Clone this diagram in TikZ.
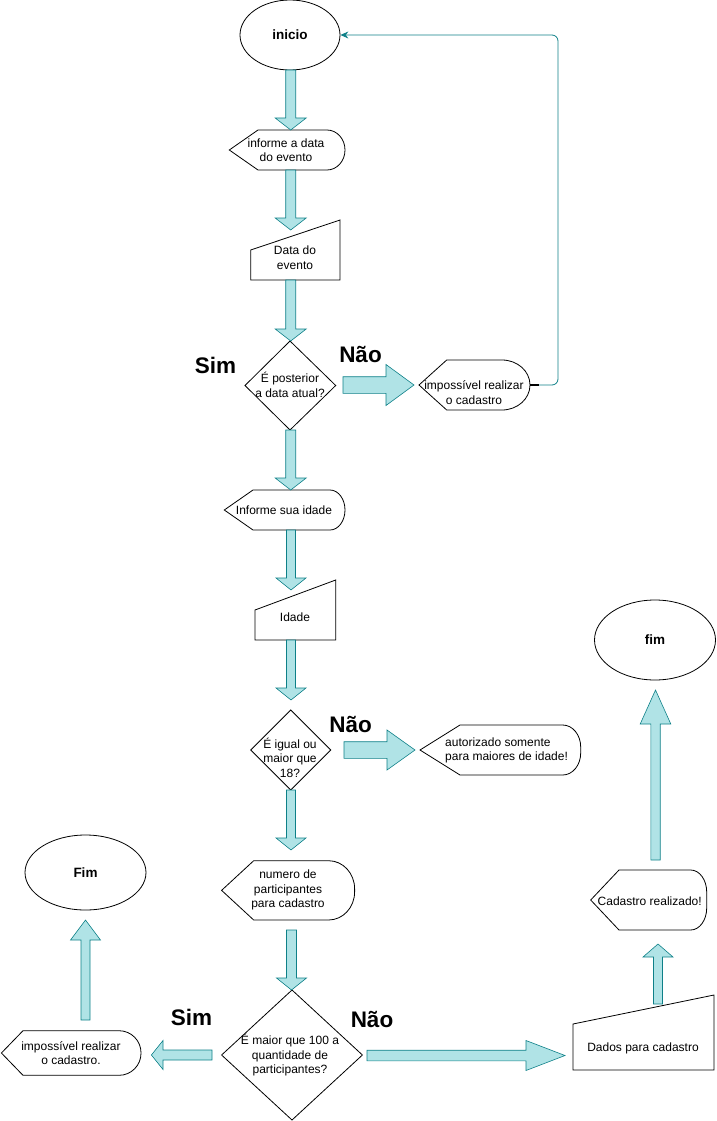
\documentclass[tikz,border=0pt]{standalone}
\usepackage{fontspec}
\setmainfont{Liberation Sans}
\usetikzlibrary{calc,shapes.geometric,arrows.meta}

\definecolor{tealfill}{HTML}{B0E3E6}
\definecolor{tealline}{HTML}{0E8088}

\tikzset{
  shapeline/.style={draw=black, line width=0.8pt, fill=white, line join=miter},
  ba/.style={fill=tealfill, draw=tealline, line width=0.6pt, line join=miter},
  txt/.style={font=\fontsize{12}{14.5}\selectfont, align=center, inner sep=0pt},
  term/.style={ellipse, shapeline, inner sep=0pt, font=\bfseries\fontsize{13.5}{16}\selectfont},
  lbl/.style={font=\bfseries\fontsize{22.5}{26}\selectfont, inner sep=0pt, anchor=base},
  conn/.style={draw=tealline, line width=0.8pt}
}

% display outline: name-free path; #1 left tip x, #2 start of straight edge, #3 right x,
% #4 top y, #5 bottom y (downward values), #6/#7 radii of the rounded right end
\newcommand{\dispoutline}[7]{%
  \draw[shapeline] (#1,{-(#4+#5)/2}) -- (#2,-#4) -- ({#3-#6},-#4)
    arc[start angle=90,end angle=0,x radius=#6,y radius=#7] -- (#3,{-#5+#7})
    arc[start angle=0,end angle=-90,x radius=#6,y radius=#7] -- (#2,-#5) -- cycle;}
% manual input: left x, right x, left top y, right top y, bottom y
\newcommand{\manoutline}[5]{%
  \draw[shapeline] (#1,-#3) -- (#2,-#4) -- (#2,-#5) -- (#1,-#5) -- cycle;}
% decision: centre x, centre y, left x, right x, top y, bottom y
\newcommand{\decoutline}[6]{%
  \draw[shapeline] (#1,-#5) -- (#4,-#2) -- (#1,-#6) -- (#3,-#2) -- cycle;}
% block arrow from tail #1 to tip #2: shaft half width, head half width, head length
\newcommand{\blockarrow}[5]{%
  \coordinate (bac) at ($(#2)!#5!(#1)$);
  \draw[ba] ($(#1)!#3!90:(#2)$) -- ($(bac)!#3!-90:(#1)$) -- ($(bac)!#4!-90:(#1)$)
    -- (#2) -- ($(bac)!#4!90:(#1)$) -- ($(bac)!#3!90:(#1)$) -- ($(#1)!#3!-90:(#2)$) -- cycle;}

\begin{document}
\begin{tikzpicture}[x=1pt,y=1pt]
\useasboundingbox (0,0) rectangle (716,-1121);

% ---------- shapes ----------
\node[term, minimum width=100pt, minimum height=70pt] (inicio) at (290,-35) {inicio};

\dispoutline{229.3}{258}{345}{130}{170}{18}{20}
\node[txt] (dData) at (286,-150.3) {informe a data\\do evento};

\manoutline{250.7}{340}{250}{220}{280}
\node[txt] (mData) at (295,-257.5) {Data do\\evento};

\decoutline{290}{385.5}{245}{335.7}{341}{430}
\node[txt] (qData) at (290,-385) {É posterior\\a data atual?};

\dispoutline{419}{446.7}{530}{360}{410}{28}{25}
\node[txt] (dErro1) at (474,-392.5) {impossível realizar\\o cadastro};

\dispoutline{224.3}{253}{345}{490}{530}{15}{20}
\node[txt] (dIdade) at (284,-510) {Informe sua idade};

\manoutline{255}{335.7}{610}{580}{640}
\node[txt] (mIdade) at (295,-617) {Idade};

\decoutline{290.7}{750}{250.7}{330.7}{710}{790}
\node[txt] (qIdade) at (290,-757.6) {É igual ou\\maior que\\18?};

\dispoutline{420}{460}{580.7}{725}{775}{18}{22}
\node[txt, align=left, anchor=west] (dMenor) at (445,-750.5) {autorizado somente\\para maiores de idade!};

\dispoutline{221.6}{253.7}{354.6}{860.7}{920}{26}{28}
\node[txt] (dPart) at (288,-890) {numero de\\participantes\\para cadastro};

\decoutline{292}{1055}{221.6}{362.4}{990}{1120}
\node[txt] (qPart) at (290,-1055.5) {É maior que 100 a\\quantidade de\\participantes?};

\dispoutline{1.4}{23}{141}{1030.7}{1075.3}{22}{22}
\node[txt] (dErro2) at (71,-1053) {impossível realizar\\o cadastro.};

\node[term, minimum width=121pt, minimum height=75pt] (fimA) at (85.5,-872.5) {Fim};

\manoutline{573}{714}{1024}{995}{1070}
\node[txt] (mDados) at (643,-1048) {Dados para cadastro};

\dispoutline{590.7}{619}{706.7}{870}{930}{16}{22}
\node[txt] (dOk) at (649.7,-901) {Cadastro realizado!};

\node[term, minimum width=121pt, minimum height=80pt] (fimB) at (655,-640) {fim};

% ---------- branch labels ----------
\node[lbl] (sim1) at (215.5,-373.3) {Sim};
\node[lbl] (nao1) at (360.5,-362.3) {Não};
\node[lbl] (nao2) at (350.7,-732.3) {Não};
\node[lbl] (sim2) at (191.5,-1025.7) {Sim};
\node[lbl] (nao3) at (372,-1027.7) {Não};

% ---------- return line to the start ----------
\coordinate (port) at (530,-385);
\coordinate (portEnd) at (539,-385);
\draw[black, line width=1.6pt] (port) -- (portEnd);
\draw[conn, rounded corners=6pt, -{Stealth[length=8pt,width=7pt]}]
  (portEnd) -- (558,-385) -- (558,-35) -- (inicio.east);

% ---------- block arrows ----------
\coordinate (a1t) at (290.7,-70);   \coordinate (a1h) at (290.7,-130);
\coordinate (a2t) at (290.7,-170);  \coordinate (a2h) at (290.7,-230);
\coordinate (a3t) at (290.7,-280);  \coordinate (a3h) at (290.7,-341);
\coordinate (a4t) at (343,-385);    \coordinate (a4h) at (414,-385);
\coordinate (a5t) at (290.7,-430);  \coordinate (a5h) at (290.7,-490);
\coordinate (a6t) at (291,-530);    \coordinate (a6h) at (291,-590);
\coordinate (a7t) at (291,-640);    \coordinate (a7h) at (291,-700);
\coordinate (a8t) at (344,-750);    \coordinate (a8h) at (415,-750);
\coordinate (a9t) at (291,-790);    \coordinate (a9h) at (291,-850);
\coordinate (a10t) at (291.5,-930); \coordinate (a10h) at (291.5,-990);
\coordinate (a11t) at (212,-1055);  \coordinate (a11h) at (151.4,-1055);
\coordinate (a12t) at (85.5,-1020); \coordinate (a12h) at (85.5,-920);
\coordinate (a13t) at (367,-1055.5);\coordinate (a13h) at (565,-1055.5);
\coordinate (a14t) at (658,-1004);  \coordinate (a14h) at (658,-944);
\coordinate (a15t) at (655.5,-860); \coordinate (a15h) at (655.5,-690);

\blockarrow{a1t}{a1h}{5pt}{15.5pt}{12pt}
\blockarrow{a2t}{a2h}{5pt}{15.5pt}{12pt}
\blockarrow{a3t}{a3h}{5pt}{15.5pt}{12pt}
\blockarrow{a4t}{a4h}{8.3pt}{20.5pt}{28pt}
\blockarrow{a5t}{a5h}{5pt}{15.5pt}{12pt}
\blockarrow{a6t}{a6h}{4.5pt}{15pt}{12pt}
\blockarrow{a7t}{a7h}{4.5pt}{15pt}{12pt}
\blockarrow{a8t}{a8h}{8.3pt}{20pt}{28pt}
\blockarrow{a9t}{a9h}{4.5pt}{15pt}{12pt}
\blockarrow{a10t}{a10h}{5pt}{15pt}{12pt}
\blockarrow{a11t}{a11h}{5pt}{14.5pt}{11.6pt}
\blockarrow{a12t}{a12h}{4.5pt}{15pt}{20pt}
\blockarrow{a13t}{a13h}{5.3pt}{15pt}{39pt}
\blockarrow{a14t}{a14h}{4.5pt}{15pt}{13pt}
\blockarrow{a15t}{a15h}{4.7pt}{15.3pt}{34pt}
\end{tikzpicture}
\end{document}
